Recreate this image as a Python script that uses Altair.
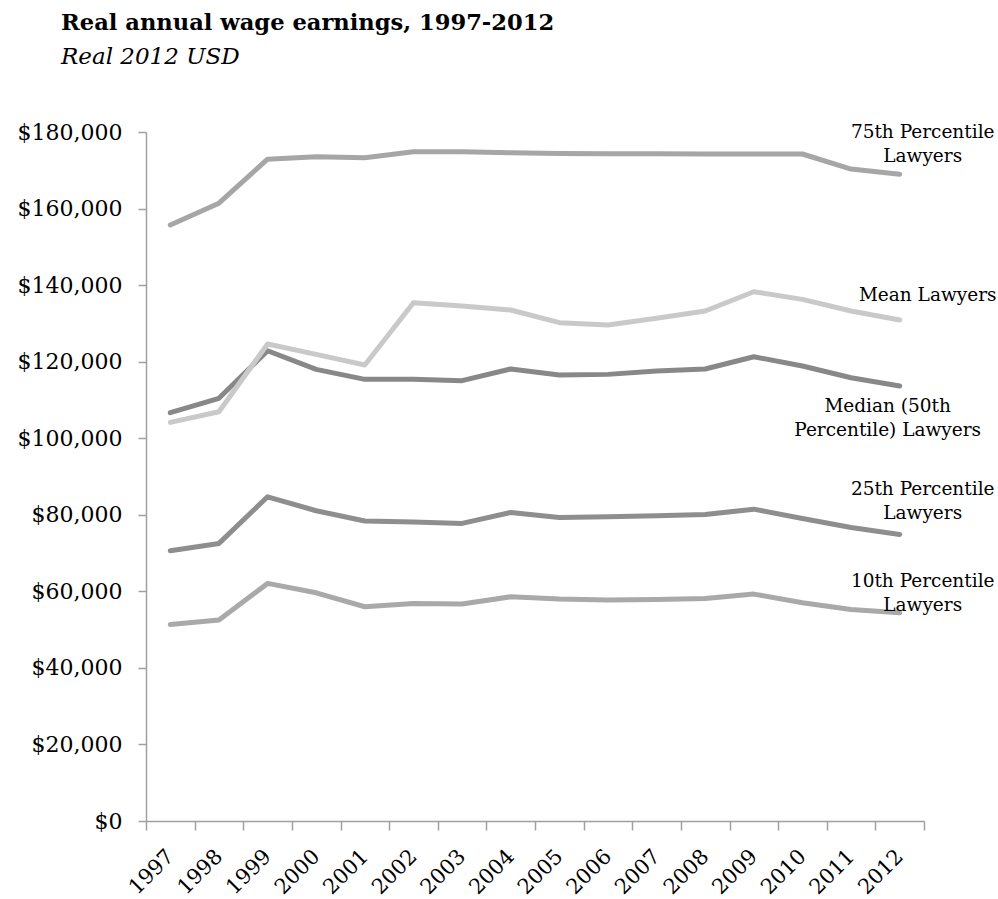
import altair as alt
import pandas as pd

years = [str(y) for y in range(1997, 2013)]

p75 = [155700, 161400, 172900, 173550, 173300, 174850, 174850, 174600,
       174400, 174350, 174300, 174250, 174250, 174250, 170330, 168950]
mean = [104150, 106930, 124600, 121900, 119130, 135400, 134530, 133490,
        130180, 129580, 131320, 133230, 138270, 136270, 133230, 130880]
median = [106670, 110430, 122860, 117990, 115380, 115380, 115030, 118080,
          116510, 116680, 117550, 118080, 121290, 118860, 115800, 113640]
p25 = [70600, 72520, 84700, 81050, 78370, 78100, 77750, 80610,
       79300, 79470, 79730, 80080, 81470, 79030, 76680, 74860]
p10 = [51360, 52490, 62070, 59620, 55970, 56840, 56670, 58580,
       57980, 57720, 57890, 58150, 59280, 57010, 55270, 54400]

series_names = ["75th Percentile Lawyers", "Median (50th Percentile) Lawyers",
                "25th Percentile Lawyers", "10th Percentile Lawyers", "Mean Lawyers"]
series_values = [p75, median, p25, p10, mean]
series_colors = ["#a6a6a6", "#888888", "#8e8e8e", "#a9a9a9", "#c9c9c9"]
series_labels = ["75th Percentile\nLawyers", "Median (50th\nPercentile) Lawyers",
                 "25th Percentile\nLawyers", "10th Percentile\nLawyers", "Mean Lawyers"]
# label offsets (dx, dy) relative to the 2012 point
label_offsets = [(23, -36), (-12, 26), (23, -39), (23, -26), (28, -19)]

rows = []
for name, vals in zip(series_names, series_values):
    for y, v in zip(years, vals):
        rows.append({"year": y, "value": v, "series": name})
df = pd.DataFrame(rows)

FONT = "DejaVu Serif"

x_enc = alt.X("year:O", scale=alt.Scale(type="band", paddingInner=0, paddingOuter=0),
              bandPosition=0.5,
              axis=alt.Axis(title=None, tickBand="extent", labelAngle=-45, labelAlign="right",
                            labelBaseline="middle", labelFont=FONT, labelFontSize=21,
                            labelColor="#000000", labelPadding=23, tickSize=9,
                            domainColor="#a0a0a0", tickColor="#a0a0a0",
                            domainWidth=1.5, tickWidth=1.5))
y_enc = alt.Y("value:Q", scale=alt.Scale(domain=[0, 180000], nice=False),
              axis=alt.Axis(title=None, values=list(range(0, 180001, 20000)), format="$,.0f",
                            labelFont=FONT, labelFontSize=22, labelColor="#000000",
                            labelPadding=16, tickSize=8, grid=False,
                            domainColor="#a0a0a0", tickColor="#a0a0a0",
                            domainWidth=1.5, tickWidth=1.5))

lines = alt.Chart(df).mark_line(strokeWidth=5, strokeCap="round", strokeJoin="round").encode(
    x=x_enc, y=y_enc,
    color=alt.Color("series:N", scale=alt.Scale(domain=series_names, range=series_colors),
                    legend=None),
)

layers = [lines]
for name, vals, lab, (dx, dy) in zip(series_names, series_values, series_labels, label_offsets):
    d = pd.DataFrame({"year": [years[-1]], "value": [vals[-1]], "label": [lab]})
    t = alt.Chart(d).mark_text(font=FONT, fontSize=18.5, color="#000000", align="center",
                               baseline="alphabetic", lineBreak="\n", lineHeight=24,
                               dx=dx, dy=dy).encode(
        x=alt.X("year:O", scale=alt.Scale(type="band", paddingInner=0, paddingOuter=0),
                bandPosition=0.5),
        y=alt.Y("value:Q"),
        text="label:N",
    )
    layers.append(t)

chart = alt.layer(*layers).properties(
    width=778, height=689,
    background="white",
    title=alt.TitleParams(text="Real annual wage earnings, 1997-2012", subtitle="Real 2012 USD",
                          anchor="start", frame="group", dx=-85, offset=52, font=FONT,
                          fontSize=22.6, fontWeight="bold", color="#000000", subtitleFont=FONT,
                          subtitleFontSize=23, subtitleFontStyle="italic",
                          subtitleColor="#000000", subtitlePadding=11),
    autosize=alt.AutoSizeParams(type="none"),
    padding={"left": 146, "top": 132, "right": 74, "bottom": 78},
).configure_view(stroke=None)

chart.save("out.html", embed_options={"renderer": "svg", "actions": False})
